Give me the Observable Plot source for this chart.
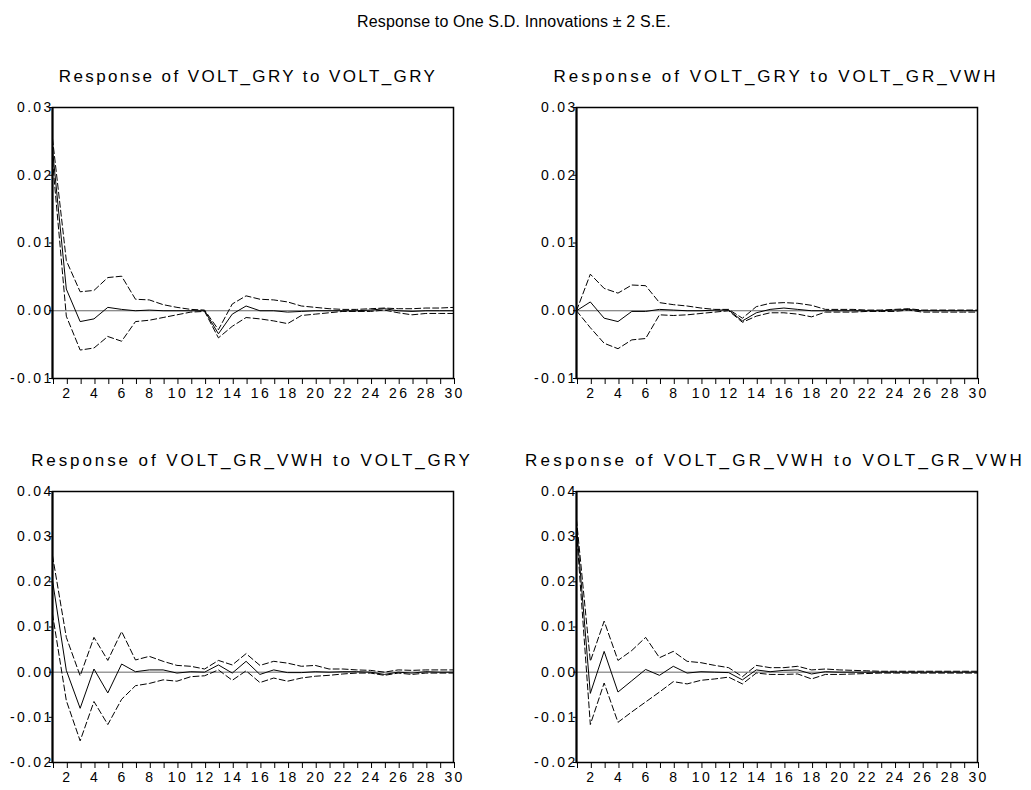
<!DOCTYPE html>
<html><head><meta charset="utf-8">
<script src="https://cdn.jsdelivr.net/npm/d3@7"></script>
<script src="https://cdn.jsdelivr.net/npm/@observablehq/plot@0.6"></script>
<style>
html,body{margin:0;padding:0;background:#fff;}
body{width:1031px;height:790px;position:relative;overflow:hidden;font-family:"Liberation Sans",Arial,sans-serif;}
.t{position:absolute;white-space:nowrap;color:#000;line-height:1;}
.pt{font-size:17px;letter-spacing:2.4px;transform:translateX(-50%);}
.p{position:absolute;}
</style></head><body>
<div class="t" style="left:357px;top:14px;font-size:16px;letter-spacing:0.15px;">Response to One S.D. Innovations ± 2 S.E.</div>
<div id="root"></div>
<script>
// horizons (periods)
const horizons = d3.range(1, 31);
const xTickLabels = [2,4,6,8,10,12,14,16,18,20,22,24,26,28,30];

// Panel titles
const titles = [
  "Response of VOLT_GRY to VOLT_GRY",
  "Response of VOLT_GRY to VOLT_GR_VWH",
  "Response of VOLT_GR_VWH to VOLT_GRY",
  "Response of VOLT_GR_VWH to VOLT_GR_VWH"
];

// y tick values
const yTicksTop = [-0.01, 0.00, 0.01, 0.02, 0.03];
const yTicksBottom = [-0.02, -0.01, 0.00, 0.01, 0.02, 0.03, 0.04];

// Response of VOLT_GRY to VOLT_GRY
const resp11 = [0.0238, 0.0032, -0.0016, -0.0012, 0.0005, 0.0002, 0.0000, 0.0001, 0.0000, 0.0000, 0.0000, 0.0000, -0.0034, -0.0005, 0.0007, 0.0000, 0.0000, -0.0002, -0.0001, 0.0000, 0.0000, 0.0000, 0.0000, 0.0001, 0.0003, 0.0000, -0.0001, 0.0000, 0.0000, 0.0000];
const upper11 = [0.0254, 0.0074, 0.0028, 0.0030, 0.0049, 0.0051, 0.0017, 0.0016, 0.0009, 0.0005, 0.0002, 0.0001, -0.0028, 0.0010, 0.0022, 0.0017, 0.0016, 0.0013, 0.0007, 0.0005, 0.0003, 0.0002, 0.0002, 0.0003, 0.0004, 0.0003, 0.0003, 0.0004, 0.0004, 0.0005];
const lower11 = [0.0222, -0.0008, -0.0058, -0.0055, -0.0038, -0.0045, -0.0016, -0.0014, -0.0010, -0.0006, -0.0002, -0.0001, -0.0040, -0.0023, -0.0010, -0.0012, -0.0015, -0.0019, -0.0007, -0.0005, -0.0003, -0.0001, -0.0001, -0.0001, 0.0001, -0.0003, -0.0006, -0.0004, -0.0004, -0.0004];

// Response of VOLT_GRY to VOLT_GR_VWH
const resp12 = [0.0000, 0.0013, -0.0011, -0.0016, -0.0001, -0.0001, 0.0002, 0.0001, 0.0000, 0.0000, 0.0001, 0.0001, -0.0015, -0.0003, 0.0002, 0.0004, 0.0002, 0.0000, 0.0000, 0.0000, 0.0000, 0.0000, 0.0000, 0.0001, 0.0002, 0.0000, 0.0000, 0.0000, 0.0000, 0.0000];
const upper12 = [0.0000, 0.0054, 0.0033, 0.0026, 0.0038, 0.0037, 0.0012, 0.0009, 0.0007, 0.0004, 0.0002, 0.0002, -0.0011, 0.0006, 0.0011, 0.0012, 0.0011, 0.0008, 0.0002, 0.0002, 0.0002, 0.0001, 0.0001, 0.0002, 0.0003, 0.0001, 0.0001, 0.0001, 0.0001, 0.0001];
const lower12 = [0.0000, -0.0025, -0.0048, -0.0056, -0.0043, -0.0041, -0.0006, -0.0007, -0.0006, -0.0004, -0.0002, 0.0000, -0.0017, -0.0008, -0.0003, -0.0003, -0.0005, -0.0009, -0.0002, -0.0002, -0.0002, -0.0001, -0.0001, -0.0001, 0.0001, -0.0002, -0.0002, -0.0002, -0.0002, -0.0002];

// Response of VOLT_GR_VWH to VOLT_GRY
const resp21 = [0.0203, 0.0004, -0.0080, 0.0007, -0.0046, 0.0018, 0.0001, 0.0005, 0.0005, -0.0002, 0.0001, 0.0000, 0.0016, -0.0002, 0.0024, -0.0005, 0.0005, -0.0001, -0.0001, 0.0001, 0.0000, 0.0001, 0.0001, 0.0000, -0.0005, 0.0000, -0.0002, 0.0001, 0.0000, 0.0000];
const upper21 = [0.0258, 0.0077, -0.0008, 0.0077, 0.0026, 0.0090, 0.0027, 0.0035, 0.0024, 0.0015, 0.0013, 0.0007, 0.0026, 0.0016, 0.0041, 0.0015, 0.0024, 0.0020, 0.0013, 0.0015, 0.0007, 0.0007, 0.0005, 0.0004, 0.0000, 0.0005, 0.0004, 0.0005, 0.0005, 0.0005];
const lower21 = [0.0129, -0.0063, -0.0152, -0.0065, -0.0116, -0.0060, -0.0030, -0.0025, -0.0017, -0.0020, -0.0010, -0.0008, 0.0005, -0.0018, 0.0003, -0.0023, -0.0013, -0.0020, -0.0013, -0.0009, -0.0007, -0.0004, -0.0002, -0.0002, -0.0007, -0.0002, -0.0005, -0.0002, -0.0002, -0.0002];

// Response of VOLT_GR_VWH to VOLT_GR_VWH
const resp22 = [0.0325, -0.0047, 0.0046, -0.0044, -0.0019, 0.0006, -0.0007, 0.0013, -0.0002, 0.0001, 0.0000, -0.0001, -0.0017, 0.0005, 0.0001, 0.0004, 0.0005, -0.0004, 0.0001, 0.0000, 0.0000, 0.0000, 0.0000, 0.0000, 0.0000, 0.0000, 0.0000, 0.0000, 0.0000, 0.0000];
const upper22 = [0.0338, 0.0024, 0.0113, 0.0026, 0.0048, 0.0077, 0.0032, 0.0046, 0.0024, 0.0021, 0.0015, 0.0010, -0.0010, 0.0015, 0.0010, 0.0010, 0.0013, 0.0005, 0.0007, 0.0005, 0.0004, 0.0003, 0.0002, 0.0002, 0.0002, 0.0002, 0.0002, 0.0002, 0.0002, 0.0002];
const lower22 = [0.0312, -0.0116, -0.0024, -0.0111, -0.0088, -0.0066, -0.0044, -0.0021, -0.0026, -0.0018, -0.0015, -0.0011, -0.0026, -0.0002, -0.0005, -0.0005, -0.0004, -0.0015, -0.0005, -0.0005, -0.0004, -0.0003, -0.0002, -0.0002, -0.0002, -0.0002, -0.0002, -0.0002, -0.0002, -0.0002];

const panels = [
  {title: titles[0], mid: resp11, up: upper11, lo: lower11, yTicks: yTicksTop, left: 0, top: 101, titleX: 248, titleY: 68, ls: 2.4},
  {title: titles[1], mid: resp12, up: upper12, lo: lower12, yTicks: yTicksTop, left: 524, top: 101, titleX: 776, titleY: 68, ls: 3.0},
  {title: titles[2], mid: resp21, up: upper21, lo: lower21, yTicks: yTicksBottom, left: 0, top: 485, titleX: 252, titleY: 452, ls: 2.9},
  {title: titles[3], mid: resp22, up: upper22, lo: lower22, yTicks: yTicksBottom, left: 524, top: 485, titleX: 775, titleY: 452, ls: 3.2}
];

const root = document.getElementById("root");
const ml = 52, mr = 20, mt = 6, mb = 30, fw = 401, fh = 271;

for (const p of panels) {
  const rows = horizons.map((h, i) => ({h, mid: p.mid[i], up: p.up[i], lo: p.lo[i]}));
  const t = document.createElement("div");
  t.className = "t pt";
  t.style.left = p.titleX + "px";
  t.style.top = p.titleY + "px";
  t.style.letterSpacing = p.ls + "px";
  t.textContent = p.title;
  root.appendChild(t);

  const chart = Plot.plot({
    width: ml + fw + mr,
    height: mt + fh + mb,
    marginLeft: ml, marginRight: mr, marginTop: mt, marginBottom: mb,
    style: {fontFamily: "'Liberation Sans', Arial, sans-serif", fontSize: "14px", letterSpacing: "2.3px", color: "#000", background: "transparent", overflow: "visible"},
    x: {domain: [1, 30], label: null},
    y: {domain: [d3.min(p.yTicks), d3.max(p.yTicks)], label: null},
    marks: [
      Plot.axisX({ticks: horizons, tickSize: 6, tickPadding: 4, tickFormat: d => xTickLabels.includes(d) ? String(d) : "", stroke: "#000", dx: 1}),
      Plot.axisY({ticks: p.yTicks, tickSize: 3, tickPadding: -4, tickFormat: d => d.toFixed(2), stroke: "#000"}),
      Plot.ruleY([0], {stroke: "#666", strokeWidth: 1}),
      Plot.line(rows, {x: "h", y: "up", stroke: "#000", strokeWidth: 1, strokeDasharray: "6,3"}),
      Plot.line(rows, {x: "h", y: "lo", stroke: "#000", strokeWidth: 1, strokeDasharray: "6,3"}),
      Plot.line(rows, {x: "h", y: "mid", stroke: "#000", strokeWidth: 1}),
      Plot.frame({stroke: "#000", strokeWidth: 1.5}),
      Plot.ruleX([1], {stroke: "#000", strokeWidth: 2})
    ]
  });
  chart.classList.add("p");
  chart.style.left = p.left + "px";
  chart.style.top = p.top + "px";
  root.appendChild(chart);
}
</script>
</body></html>
